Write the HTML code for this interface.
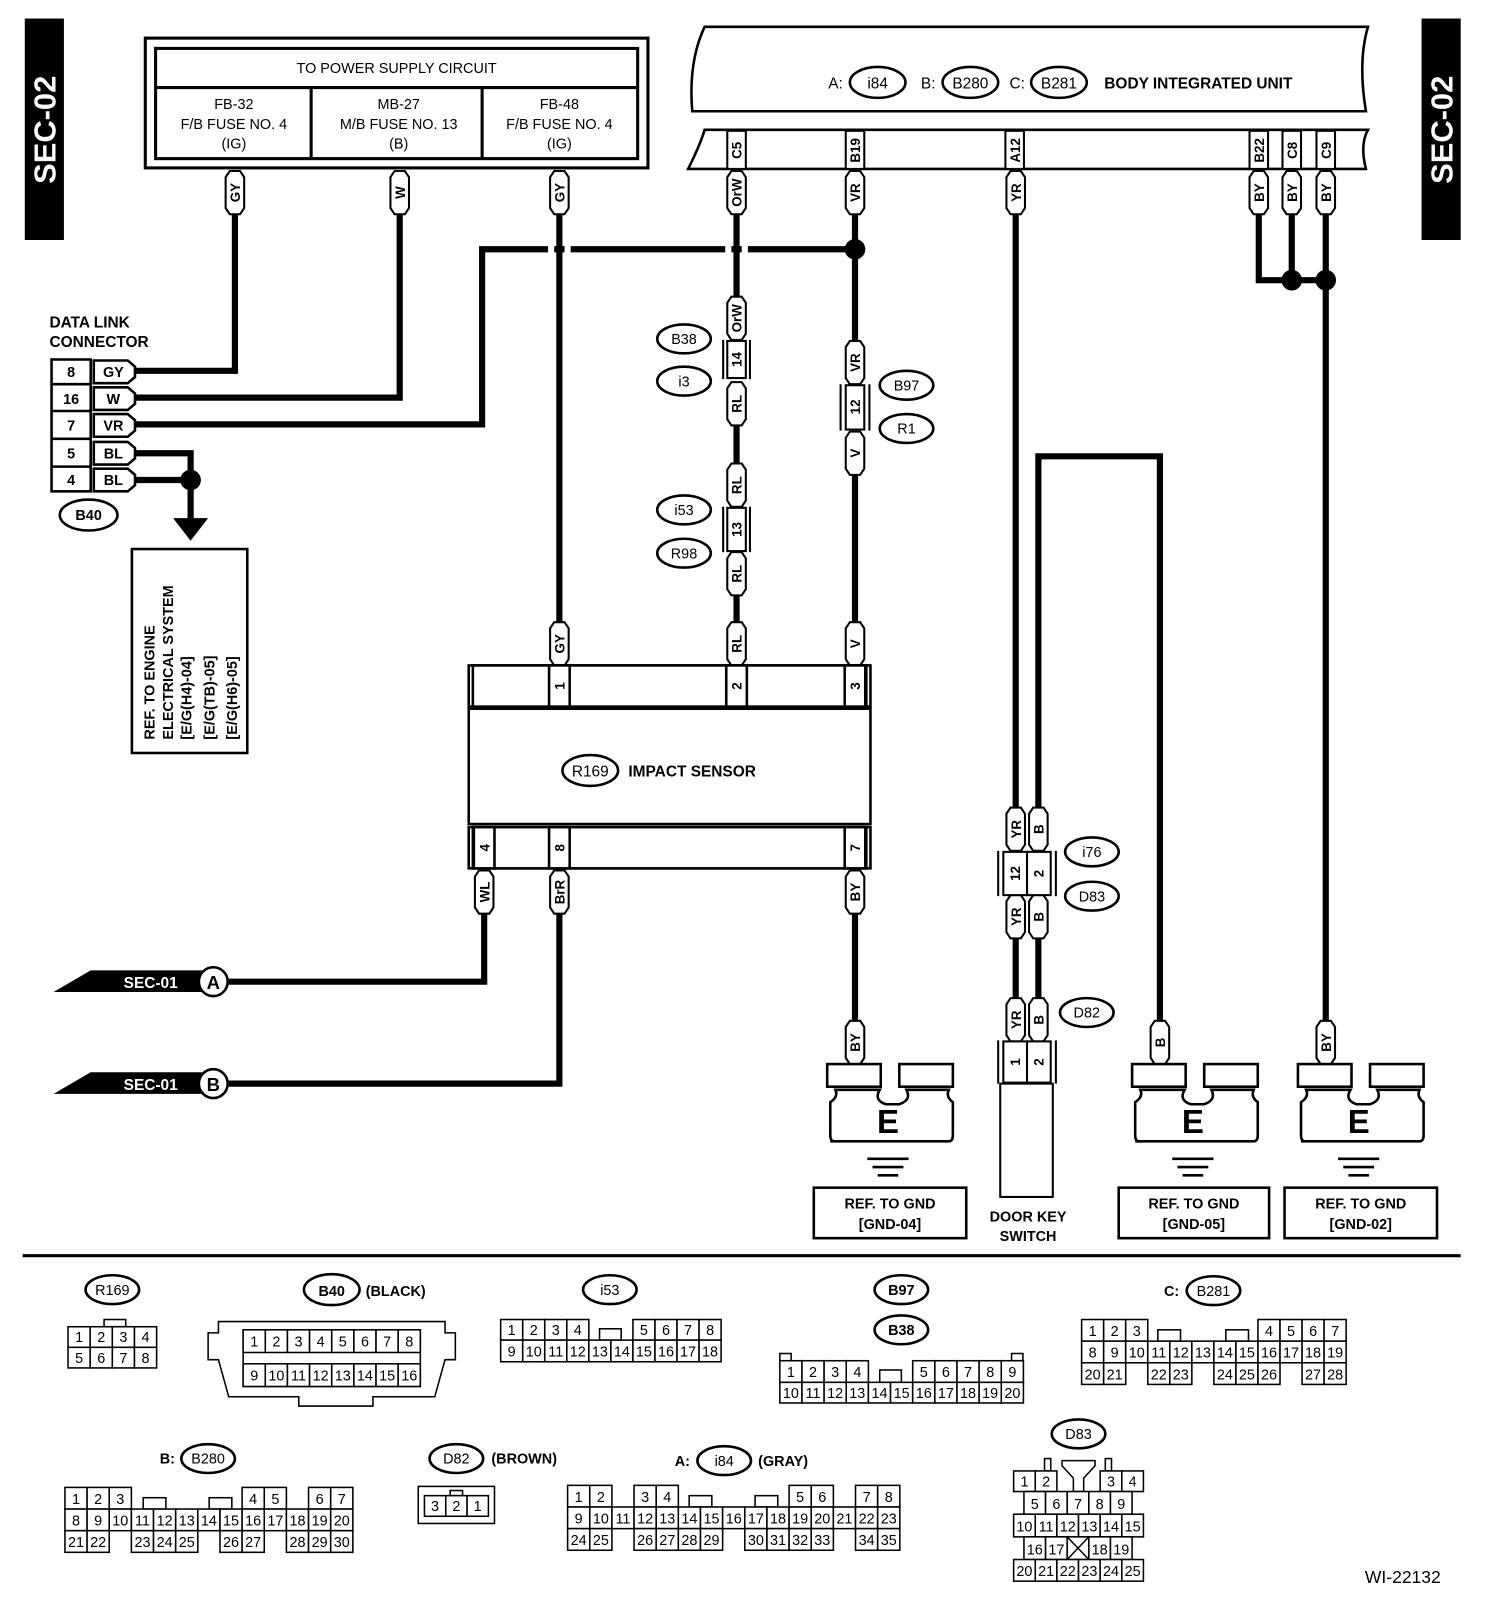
<!DOCTYPE html>
<html><head><meta charset="utf-8"><style>
html,body{margin:0;padding:0;background:#fff;}
svg{display:block;}
text{font-family:"Liberation Sans",Arial,sans-serif;}
</style></head><body>
<svg width="1504" height="1610" viewBox="0 0 1460 1563" xmlns="http://www.w3.org/2000/svg">
<defs>
<path id="tg" d="M-9,-15 L-5,-21 L5,-21 L9,-15 L9,15 L5,21 L-5,21 L-9,15 Z" fill="#fff" stroke="#000" stroke-width="2"/>
</defs>
<rect width="1460" height="1563" fill="#fff"/>

<!-- SEC-02 tabs -->
<rect x="24" y="18" width="38" height="215" fill="#000"/>
<text transform="translate(54,126) rotate(-90)" text-anchor="middle" font-size="30" font-weight="bold" fill="#fff">SEC-02</text>
<rect x="1380" y="18" width="38" height="215" fill="#000"/>
<text transform="translate(1410,126) rotate(-90)" text-anchor="middle" font-size="30" font-weight="bold" fill="#fff">SEC-02</text>

<!-- Fuse box -->
<g fill="none" stroke="#000" stroke-width="3">
<rect x="141" y="37" width="488" height="126"/>
<rect x="151" y="47" width="468" height="107"/>
<line x1="151" y1="85" x2="619" y2="85"/>
<line x1="302" y1="85" x2="302" y2="154"/>
<line x1="468" y1="85" x2="468" y2="154"/>
</g>
<g font-size="14" text-anchor="middle" fill="#000">
<text x="385" y="71">TO POWER SUPPLY CIRCUIT</text>
<text x="227" y="106">FB-32</text><text x="227" y="125">F/B FUSE NO. 4</text><text x="227" y="144">(IG)</text>
<text x="387" y="106">MB-27</text><text x="387" y="125">M/B FUSE NO. 13</text><text x="387" y="144">(B)</text>
<text x="543" y="106">FB-48</text><text x="543" y="125">F/B FUSE NO. 4</text><text x="543" y="144">(IG)</text>
</g>

<!-- Body integrated unit -->
<path d="M684,26 L1328,26 Q1318,60 1326,108 L672,108 Q668,60 684,26 Z" fill="#fff" stroke="#000" stroke-width="2.5"/>
<path d="M684,126 L1328,126 Q1320,140 1326,164 L668,164 Q680,140 684,126 Z" fill="#fff" stroke="#000" stroke-width="2.5"/>
<g stroke="#000" stroke-width="2" fill="#fff">
<rect x="706" y="127" width="18" height="37"/>
<rect x="821" y="127" width="18" height="37"/>
<rect x="976" y="127" width="18" height="37"/>
<rect x="1213" y="127" width="18" height="37"/>
<rect x="1245" y="127" width="18" height="37"/>
<rect x="1278" y="127" width="18" height="37"/>
</g>
<g font-size="13" font-weight="bold" text-anchor="middle">
<text transform="translate(720,146) rotate(-90)">C5</text>
<text transform="translate(835,146) rotate(-90)">B19</text>
<text transform="translate(990,146) rotate(-90)">A12</text>
<text transform="translate(1227,146) rotate(-90)">B22</text>
<text transform="translate(1259,146) rotate(-90)">C8</text>
<text transform="translate(1292,146) rotate(-90)">C9</text>
</g>
<g font-size="15" fill="#000">
<text x="804" y="86">A:</text>
<ellipse cx="852" cy="80" rx="27" ry="15" fill="none" stroke="#000" stroke-width="2.5"/><text x="852" y="86" text-anchor="middle">i84</text>
<text x="894" y="86">B:</text>
<ellipse cx="942" cy="80" rx="27" ry="15" fill="none" stroke="#000" stroke-width="2.5"/><text x="942" y="86" text-anchor="middle">B280</text>
<text x="980" y="86">C:</text>
<ellipse cx="1028" cy="80" rx="27" ry="15" fill="none" stroke="#000" stroke-width="2.5"/><text x="1028" y="86" text-anchor="middle">B281</text>
<text x="1072" y="86" font-weight="bold">BODY INTEGRATED UNIT</text>
</g>

<!-- wires -->
<g stroke="#000" stroke-width="6" fill="none">
<polyline points="228,208 228,360 130,360"/>
<polyline points="388,208 388,386 130,386"/>
<polyline points="830,242 468,242 468,412 130,412"/>
<line x1="543" y1="208" x2="543" y2="605"/>
<line x1="715" y1="208" x2="715" y2="290"/>
<line x1="715" y1="410" x2="715" y2="455"/>
<line x1="715" y1="575" x2="715" y2="605"/>
<line x1="830" y1="208" x2="830" y2="332"/>
<line x1="830" y1="458" x2="830" y2="605"/>
<polyline points="130,440 185,440 185,505"/>
<line x1="130" y1="466" x2="185" y2="466"/>
<line x1="986" y1="208" x2="986" y2="786"/>
<polyline points="1008,786 1008,443 1126,443 1126,992"/>
<polyline points="1222,208 1222,272 1287,272"/>
<line x1="1254" y1="208" x2="1254" y2="272"/>
<line x1="1287" y1="208" x2="1287" y2="992"/>
<polyline points="470,886 470,953 222,953"/>
<polyline points="543,886 543,1052 222,1052"/>
<line x1="830" y1="886" x2="830" y2="992"/>
<line x1="986" y1="910" x2="986" y2="970"/>
<line x1="1008" y1="910" x2="1008" y2="970"/>
</g>
<!-- crossing breaks -->
<rect x="532" y="236" width="6" height="12" fill="#fff"/>
<rect x="548" y="236" width="6" height="12" fill="#fff"/>
<rect x="704" y="236" width="6" height="12" fill="#fff"/>
<rect x="720" y="236" width="6" height="12" fill="#fff"/>
<g fill="#000">
<circle cx="830" cy="242" r="10"/>
<circle cx="185" cy="466" r="10"/>
<circle cx="1254" cy="272" r="10"/>
<circle cx="1287" cy="272" r="10"/>
<polygon points="168,503 202,503 185,525"/>
</g>

<!-- tags -->
<use href="#tg" x="228" y="187"/><use href="#tg" x="388" y="187"/><use href="#tg" x="543" y="187"/>
<use href="#tg" x="715" y="187"/><use href="#tg" x="830" y="187"/><use href="#tg" x="986" y="187"/>
<use href="#tg" x="1222" y="187"/><use href="#tg" x="1254" y="187"/><use href="#tg" x="1287" y="187"/>
<use href="#tg" x="715" y="309"/><use href="#tg" x="715" y="392"/><use href="#tg" x="715" y="471"/><use href="#tg" x="715" y="557"/><use href="#tg" x="715" y="625"/>
<use href="#tg" x="830" y="352"/><use href="#tg" x="830" y="440"/><use href="#tg" x="830" y="625"/><use href="#tg" x="543" y="625"/>
<use href="#tg" x="470" y="866"/><use href="#tg" x="543" y="866"/><use href="#tg" x="830" y="866"/>
<use href="#tg" x="986" y="805"/><use href="#tg" x="1008" y="805"/><use href="#tg" x="986" y="890"/><use href="#tg" x="1008" y="890"/>
<use href="#tg" x="986" y="990"/><use href="#tg" x="1008" y="990"/>
<use href="#tg" x="830" y="1012"/><use href="#tg" x="1126" y="1012"/><use href="#tg" x="1287" y="1012"/>
<g font-size="13" font-weight="bold" text-anchor="middle">
<text transform="translate(233,187) rotate(-90)">GY</text>
<text transform="translate(393,187) rotate(-90)">W</text>
<text transform="translate(548,187) rotate(-90)">GY</text>
<text transform="translate(720,187) rotate(-90)">OrW</text>
<text transform="translate(835,187) rotate(-90)">VR</text>
<text transform="translate(991,187) rotate(-90)">YR</text>
<text transform="translate(1227,187) rotate(-90)">BY</text>
<text transform="translate(1259,187) rotate(-90)">BY</text>
<text transform="translate(1292,187) rotate(-90)">BY</text>
<text transform="translate(720,309) rotate(-90)">OrW</text>
<text transform="translate(720,392) rotate(-90)">RL</text>
<text transform="translate(720,471) rotate(-90)">RL</text>
<text transform="translate(720,557) rotate(-90)">RL</text>
<text transform="translate(720,625) rotate(-90)">RL</text>
<text transform="translate(835,352) rotate(-90)">VR</text>
<text transform="translate(835,440) rotate(-90)">V</text>
<text transform="translate(835,625) rotate(-90)">V</text>
<text transform="translate(548,625) rotate(-90)">GY</text>
<text transform="translate(475,866) rotate(-90)">WL</text>
<text transform="translate(548,866) rotate(-90)">BrR</text>
<text transform="translate(835,866) rotate(-90)">BY</text>
<text transform="translate(991,805) rotate(-90)">YR</text>
<text transform="translate(1013,805) rotate(-90)">B</text>
<text transform="translate(991,890) rotate(-90)">YR</text>
<text transform="translate(1013,890) rotate(-90)">B</text>
<text transform="translate(991,990) rotate(-90)">YR</text>
<text transform="translate(1013,990) rotate(-90)">B</text>
<text transform="translate(835,1012) rotate(-90)">BY</text>
<text transform="translate(1131,1012) rotate(-90)">B</text>
<text transform="translate(1292,1012) rotate(-90)">BY</text>
</g>

<!-- inline connectors -->
<g fill="#fff" stroke="#000" stroke-width="2">
<path d="M702,330 L702,368 M728,330 L728,368" stroke-width="2"/>
<rect x="706" y="331" width="18" height="36"/>
<path d="M702,492 L702,536 M728,492 L728,536"/>
<rect x="706" y="493" width="18" height="42"/>
<path d="M816,373 L816,418 M844,373 L844,418"/>
<rect x="821" y="374" width="18" height="43"/>
<path d="M969,826 L969,870 M1025,826 L1025,870"/>
<rect x="974" y="827" width="23" height="42"/><rect x="997" y="827" width="23" height="42"/>
<path d="M969,1010 L969,1052 M1025,1010 L1025,1052"/>
<rect x="974" y="1011" width="23" height="40"/><rect x="997" y="1011" width="23" height="40"/>
<rect x="971" y="1052" width="51" height="110"/>
</g>
<g font-size="13" font-weight="bold" text-anchor="middle">
<text transform="translate(720,349) rotate(-90)">14</text>
<text transform="translate(720,514) rotate(-90)">13</text>
<text transform="translate(835,395) rotate(-90)">12</text>
<text transform="translate(990,848) rotate(-90)">12</text>
<text transform="translate(1013,848) rotate(-90)">2</text>
<text transform="translate(990,1031) rotate(-90)">1</text>
<text transform="translate(1013,1031) rotate(-90)">2</text>
</g>
<g font-size="14" text-anchor="middle" fill="none" stroke="#000" stroke-width="2.5">
<ellipse cx="664" cy="329" rx="26" ry="14"/><ellipse cx="664" cy="370" rx="26" ry="14"/>
<ellipse cx="880" cy="374" rx="26" ry="14"/><ellipse cx="880" cy="416" rx="26" ry="14"/>
<ellipse cx="664" cy="495" rx="26" ry="14"/><ellipse cx="664" cy="537" rx="26" ry="14"/>
<ellipse cx="1060" cy="827" rx="26" ry="14"/><ellipse cx="1060" cy="870" rx="26" ry="14"/>
<ellipse cx="1055" cy="983" rx="26" ry="14"/>
<ellipse cx="86" cy="500" rx="28" ry="15"/>
</g>
<g font-size="14" text-anchor="middle">
<text x="664" y="334">B38</text><text x="664" y="375">i3</text>
<text x="880" y="379">B97</text><text x="880" y="421">R1</text>
<text x="664" y="500">i53</text><text x="664" y="542">R98</text>
<text x="1060" y="832">i76</text><text x="1060" y="875">D83</text>
<text x="1055" y="988">D82</text>
<text x="86" y="505" font-weight="bold">B40</text>
</g>

<!-- DLC -->
<text x="48" y="318" font-size="15" font-weight="bold">DATA LINK</text>
<text x="48" y="337" font-size="15" font-weight="bold">CONNECTOR</text>
<g stroke="#000" stroke-width="2.5" fill="#fff">
<rect x="50" y="349" width="38" height="128"/>
<line x1="50" y1="373" x2="88" y2="373"/><line x1="50" y1="399" x2="88" y2="399"/><line x1="50" y1="426" x2="88" y2="426"/><line x1="50" y1="453" x2="88" y2="453"/>
<path d="M91,350 L124,350 L131,356 L131,366 L124,372 L91,372 Z"/>
<path d="M91,376 L124,376 L131,382 L131,392 L124,398 L91,398 Z"/>
<path d="M91,402 L124,402 L131,408 L131,418 L124,424 L91,424 Z"/>
<path d="M91,429 L124,429 L131,435 L131,445 L124,451 L91,451 Z"/>
<path d="M91,455 L124,455 L131,461 L131,471 L124,477 L91,477 Z"/>
</g>
<g font-size="14" font-weight="bold" text-anchor="middle">
<text x="69" y="366">8</text><text x="69" y="392">16</text><text x="69" y="418">7</text><text x="69" y="445">5</text><text x="69" y="471">4</text>
<text x="110" y="366">GY</text><text x="110" y="392">W</text><text x="110" y="418">VR</text><text x="110" y="445">BL</text><text x="110" y="471">BL</text>
</g>

<!-- ref engine box -->
<rect x="128" y="533" width="112" height="198" fill="none" stroke="#000" stroke-width="2.5"/>
<g font-size="14" font-weight="bold">
<text transform="translate(150,718) rotate(-90)">REF. TO ENGINE</text>
<text transform="translate(168,718) rotate(-90)">ELECTRICAL SYSTEM</text>
<text transform="translate(186,718) rotate(-90)">[E/G(H4)-04]</text>
<text transform="translate(208,718) rotate(-90)">[E/G(TB)-05]</text>
<text transform="translate(230,718) rotate(-90)">[E/G(H6)-05]</text>
</g>

<!-- Impact sensor -->
<g stroke="#000" stroke-width="2.5" fill="#fff">
<rect x="455" y="646" width="390" height="40"/>
<rect x="455" y="688" width="390" height="112"/>
<rect x="455" y="803" width="390" height="40"/>
<rect x="459" y="646" width="382" height="40"/>
<rect x="459" y="803" width="382" height="40"/>
<rect x="533" y="646" width="20" height="40"/><rect x="705" y="646" width="20" height="40"/><rect x="820" y="646" width="20" height="40"/>
<rect x="460" y="803" width="20" height="40"/><rect x="533" y="803" width="20" height="40"/><rect x="820" y="803" width="20" height="40"/>
</g>
<g font-size="13" font-weight="bold" text-anchor="middle">
<text transform="translate(548,666) rotate(-90)">1</text>
<text transform="translate(720,666) rotate(-90)">2</text>
<text transform="translate(835,666) rotate(-90)">3</text>
<text transform="translate(475,823) rotate(-90)">4</text>
<text transform="translate(548,823) rotate(-90)">8</text>
<text transform="translate(835,823) rotate(-90)">7</text>
</g>
<ellipse cx="573" cy="748" rx="27" ry="15" fill="none" stroke="#000" stroke-width="2.5"/>
<text x="573" y="754" font-size="15" text-anchor="middle">R169</text>
<text x="610" y="754" font-size="15" font-weight="bold">IMPACT SENSOR</text>

<!-- SEC-01 -->
<polygon points="52,963 88,942 196,942 196,963" fill="#000"/>
<text x="120" y="959" font-size="15" fill="#fff" font-weight="bold">SEC-01</text>
<circle cx="207" cy="953" r="14" fill="#fff" stroke="#000" stroke-width="2.5"/>
<text x="207" y="960" font-size="18" font-weight="bold" text-anchor="middle">A</text>
<polygon points="52,1062 88,1041 196,1041 196,1062" fill="#000"/>
<text x="120" y="1058" font-size="15" fill="#fff" font-weight="bold">SEC-01</text>
<circle cx="207" cy="1052" r="14" fill="#fff" stroke="#000" stroke-width="2.5"/>
<text x="207" y="1059" font-size="18" font-weight="bold" text-anchor="middle">B</text>

<!-- grounds -->
<g id="gnd1" stroke="#000" stroke-width="2.5" fill="#fff">
<rect x="803" y="1033" width="52" height="22"/><rect x="873" y="1033" width="52" height="22"/>
<path d="M806,1108 L921,1108 Q925,1108 925,1102 L925,1070 Q918,1065 921,1058 L880,1058 Q885,1068 873,1072 L860,1072 Q848,1068 854,1058 L811,1058 Q814,1065 806,1070 L806,1102 Q806,1108 810,1108 Z"/>
</g>
<text x="862" y="1100" font-size="32" font-weight="bold" text-anchor="middle">E</text>
<g stroke="#000" stroke-width="2.5"><line x1="842" y1="1125" x2="882" y2="1125"/><line x1="847" y1="1133" x2="877" y2="1133"/><line x1="852" y1="1141" x2="872" y2="1141"/></g>
<g transform="translate(296,0)">
<g stroke="#000" stroke-width="2.5" fill="#fff">
<rect x="803" y="1033" width="52" height="22"/><rect x="873" y="1033" width="52" height="22"/>
<path d="M806,1108 L921,1108 Q925,1108 925,1102 L925,1070 Q918,1065 921,1058 L880,1058 Q885,1068 873,1072 L860,1072 Q848,1068 854,1058 L811,1058 Q814,1065 806,1070 L806,1102 Q806,1108 810,1108 Z"/>
</g>
<text x="862" y="1100" font-size="32" font-weight="bold" text-anchor="middle">E</text>
<g stroke="#000" stroke-width="2.5"><line x1="842" y1="1125" x2="882" y2="1125"/><line x1="847" y1="1133" x2="877" y2="1133"/><line x1="852" y1="1141" x2="872" y2="1141"/></g>
</g>
<g transform="translate(457,0)">
<g stroke="#000" stroke-width="2.5" fill="#fff">
<rect x="803" y="1033" width="52" height="22"/><rect x="873" y="1033" width="52" height="22"/>
<path d="M806,1108 L921,1108 Q925,1108 925,1102 L925,1070 Q918,1065 921,1058 L880,1058 Q885,1068 873,1072 L860,1072 Q848,1068 854,1058 L811,1058 Q814,1065 806,1070 L806,1102 Q806,1108 810,1108 Z"/>
</g>
<text x="862" y="1100" font-size="32" font-weight="bold" text-anchor="middle">E</text>
<g stroke="#000" stroke-width="2.5"><line x1="842" y1="1125" x2="882" y2="1125"/><line x1="847" y1="1133" x2="877" y2="1133"/><line x1="852" y1="1141" x2="872" y2="1141"/></g>
</g>
<g fill="none" stroke="#000" stroke-width="2.5">
<rect x="790" y="1153" width="148" height="49"/>
<rect x="1086" y="1153" width="146" height="49"/>
<rect x="1247" y="1153" width="148" height="49"/>
</g>
<g font-size="14" font-weight="bold" text-anchor="middle">
<text x="864" y="1173">REF. TO GND</text><text x="864" y="1193">[GND-04]</text>
<text x="1159" y="1173">REF. TO GND</text><text x="1159" y="1193">[GND-05]</text>
<text x="1321" y="1173">REF. TO GND</text><text x="1321" y="1193">[GND-02]</text>
<text x="998" y="1186">DOOR KEY</text><text x="998" y="1205">SWITCH</text>
</g>

<line x1="22" y1="1219" x2="1418" y2="1219" stroke="#000" stroke-width="3"/>

<!-- bottom connector views -->
<g font-size="14" text-anchor="middle" fill="none" stroke="#000" stroke-width="2.5">
<ellipse cx="109" cy="1252" rx="26" ry="14"/>
<ellipse cx="322" cy="1252" rx="27" ry="15"/>
<ellipse cx="592" cy="1252" rx="26" ry="14"/>
<ellipse cx="875" cy="1252" rx="26" ry="14"/>
<ellipse cx="875" cy="1291" rx="26" ry="14"/>
<ellipse cx="1178" cy="1253" rx="26" ry="14"/>
<ellipse cx="202" cy="1416" rx="26" ry="14"/>
<ellipse cx="443" cy="1416" rx="26" ry="14"/>
<ellipse cx="703" cy="1418" rx="26" ry="14"/>
<ellipse cx="1047" cy="1392" rx="26" ry="14"/>
</g>
<g font-size="14">
<text x="109" y="1257" text-anchor="middle">R169</text>
<text x="322" y="1258" text-anchor="middle" font-weight="bold">B40</text><text x="355" y="1258" font-weight="bold">(BLACK)</text>
<text x="592" y="1257" text-anchor="middle">i53</text>
<text x="875" y="1257" text-anchor="middle" font-weight="bold">B97</text>
<text x="875" y="1296" text-anchor="middle" font-weight="bold">B38</text>
<text x="1130" y="1258" font-weight="bold">C:</text><text x="1178" y="1258" text-anchor="middle">B281</text>
<text x="155" y="1421" font-weight="bold">B:</text><text x="202" y="1421" text-anchor="middle">B280</text>
<text x="443" y="1421" text-anchor="middle">D82</text><text x="477" y="1421" font-weight="bold">(BROWN)</text>
<text x="655" y="1423" font-weight="bold">A:</text><text x="703" y="1423" text-anchor="middle">i84</text><text x="736" y="1423" font-weight="bold">(GRAY)</text>
<text x="1047" y="1397" text-anchor="middle">D83</text>
</g>

<g stroke="#000" stroke-width="1.5" fill="#fff">
<!-- R169 -->
<rect x="101" y="1281" width="21" height="7"/>
<rect x="66" y="1288" width="21.5" height="20"/><rect x="87.5" y="1288" width="21.5" height="20"/><rect x="109" y="1288" width="21.5" height="20"/><rect x="130.5" y="1288" width="21.5" height="20"/>
<rect x="66" y="1308" width="21.5" height="20"/><rect x="87.5" y="1308" width="21.5" height="20"/><rect x="109" y="1308" width="21.5" height="20"/><rect x="130.5" y="1308" width="21.5" height="20"/>
<!-- B40 -->
<path d="M212,1283 L432,1283 L432,1294 L442,1294 L442,1320 L432,1320 L422,1356 L362,1356 L362,1365 L290,1365 L290,1356 L222,1356 L212,1320 L202,1320 L202,1294 L212,1294 Z"/>
<rect x="236" y="1291" width="172" height="55"/>
<rect x="236" y="1291" width="21.5" height="22"/><rect x="257.5" y="1291" width="21.5" height="22"/><rect x="279" y="1291" width="21.5" height="22"/><rect x="300.5" y="1291" width="21.5" height="22"/><rect x="322" y="1291" width="21.5" height="22"/><rect x="343.5" y="1291" width="21.5" height="22"/><rect x="365" y="1291" width="21.5" height="22"/><rect x="386.5" y="1291" width="21.5" height="22"/>
<rect x="236" y="1324" width="21.5" height="22"/><rect x="257.5" y="1324" width="21.5" height="22"/><rect x="279" y="1324" width="21.5" height="22"/><rect x="300.5" y="1324" width="21.5" height="22"/><rect x="322" y="1324" width="21.5" height="22"/><rect x="343.5" y="1324" width="21.5" height="22"/><rect x="365" y="1324" width="21.5" height="22"/><rect x="386.5" y="1324" width="21.5" height="22"/>
<!-- i53 -->
<rect x="582" y="1290" width="21" height="11"/>
<rect x="486" y="1281" width="21.4" height="20"/><rect x="507.4" y="1281" width="21.4" height="20"/><rect x="528.8" y="1281" width="21.4" height="20"/><rect x="550.2" y="1281" width="21.4" height="20"/>
<rect x="614.4" y="1281" width="21.4" height="20"/><rect x="635.8" y="1281" width="21.4" height="20"/><rect x="657.2" y="1281" width="21.4" height="20"/><rect x="678.6" y="1281" width="21.4" height="20"/>
<rect x="486" y="1301" width="21.4" height="21"/><rect x="507.4" y="1301" width="21.4" height="21"/><rect x="528.8" y="1301" width="21.4" height="21"/><rect x="550.2" y="1301" width="21.4" height="21"/><rect x="571.6" y="1301" width="21.4" height="21"/><rect x="593" y="1301" width="21.4" height="21"/><rect x="614.4" y="1301" width="21.4" height="21"/><rect x="635.8" y="1301" width="21.4" height="21"/><rect x="657.2" y="1301" width="21.4" height="21"/><rect x="678.6" y="1301" width="21.4" height="21"/>
<!-- B97 -->
<rect x="757" y="1314" width="11" height="7"/><rect x="982" y="1314" width="11" height="7"/>
<rect x="854" y="1330" width="21" height="12"/>
<rect x="757" y="1321" width="21.5" height="21"/><rect x="778.5" y="1321" width="21.5" height="21"/><rect x="800" y="1321" width="21.5" height="21"/><rect x="821.5" y="1321" width="21.5" height="21"/>
<rect x="886" y="1321" width="21.5" height="21"/><rect x="907.5" y="1321" width="21.5" height="21"/><rect x="929" y="1321" width="21.5" height="21"/><rect x="950.5" y="1321" width="21.5" height="21"/><rect x="972" y="1321" width="21.5" height="21"/>
<rect x="757" y="1342" width="21.5" height="20"/><rect x="778.5" y="1342" width="21.5" height="20"/><rect x="800" y="1342" width="21.5" height="20"/><rect x="821.5" y="1342" width="21.5" height="20"/><rect x="843" y="1342" width="21.5" height="20"/><rect x="864.5" y="1342" width="21.5" height="20"/><rect x="886" y="1342" width="21.5" height="20"/><rect x="907.5" y="1342" width="21.5" height="20"/><rect x="929" y="1342" width="21.5" height="20"/><rect x="950.5" y="1342" width="21.5" height="20"/><rect x="972" y="1342" width="21.5" height="20"/>
<!-- B281 -->
<rect x="1124" y="1291" width="22" height="11"/><rect x="1190" y="1291" width="22" height="11"/>
<rect x="1050" y="1281" width="21.4" height="21"/><rect x="1071.4" y="1281" width="21.4" height="21"/><rect x="1092.8" y="1281" width="21.4" height="21"/>
<rect x="1221.2" y="1281" width="21.4" height="21"/><rect x="1242.6" y="1281" width="21.4" height="21"/><rect x="1264" y="1281" width="21.4" height="21"/><rect x="1285.4" y="1281" width="21.4" height="21"/>
<rect x="1050" y="1302" width="21.4" height="21"/><rect x="1071.4" y="1302" width="21.4" height="21"/><rect x="1092.8" y="1302" width="21.4" height="21"/><rect x="1114.2" y="1302" width="21.4" height="21"/><rect x="1135.6" y="1302" width="21.4" height="21"/><rect x="1157" y="1302" width="21.4" height="21"/><rect x="1178.4" y="1302" width="21.4" height="21"/><rect x="1199.8" y="1302" width="21.4" height="21"/><rect x="1221.2" y="1302" width="21.4" height="21"/><rect x="1242.6" y="1302" width="21.4" height="21"/><rect x="1264" y="1302" width="21.4" height="21"/><rect x="1285.4" y="1302" width="21.4" height="21"/>
<rect x="1050" y="1323" width="21.4" height="21"/><rect x="1071.4" y="1323" width="21.4" height="21"/>
<rect x="1114.2" y="1323" width="21.4" height="21"/><rect x="1135.6" y="1323" width="21.4" height="21"/>
<rect x="1178.4" y="1323" width="21.4" height="21"/><rect x="1199.8" y="1323" width="21.4" height="21"/><rect x="1221.2" y="1323" width="21.4" height="21"/>
<rect x="1264" y="1323" width="21.4" height="21"/><rect x="1285.4" y="1323" width="21.4" height="21"/>
<!-- B280 -->
<rect x="139" y="1454" width="22" height="11"/><rect x="203" y="1454" width="22" height="11"/>
<rect x="63" y="1444" width="21.5" height="21"/><rect x="84.5" y="1444" width="21.5" height="21"/><rect x="106" y="1444" width="21.5" height="21"/>
<rect x="235" y="1444" width="21.5" height="21"/><rect x="256.5" y="1444" width="21.5" height="21"/>
<rect x="299.5" y="1444" width="21.5" height="21"/><rect x="321" y="1444" width="21.5" height="21"/>
<rect x="63" y="1465" width="21.5" height="21"/><rect x="84.5" y="1465" width="21.5" height="21"/><rect x="106" y="1465" width="21.5" height="21"/><rect x="127.5" y="1465" width="21.5" height="21"/><rect x="149" y="1465" width="21.5" height="21"/><rect x="170.5" y="1465" width="21.5" height="21"/><rect x="192" y="1465" width="21.5" height="21"/><rect x="213.5" y="1465" width="21.5" height="21"/><rect x="235" y="1465" width="21.5" height="21"/><rect x="256.5" y="1465" width="21.5" height="21"/><rect x="278" y="1465" width="21.5" height="21"/><rect x="299.5" y="1465" width="21.5" height="21"/><rect x="321" y="1465" width="21.5" height="21"/>
<rect x="63" y="1486" width="21.5" height="21"/><rect x="84.5" y="1486" width="21.5" height="21"/>
<rect x="127.5" y="1486" width="21.5" height="21"/><rect x="149" y="1486" width="21.5" height="21"/><rect x="170.5" y="1486" width="21.5" height="21"/>
<rect x="213.5" y="1486" width="21.5" height="21"/><rect x="235" y="1486" width="21.5" height="21"/>
<rect x="278" y="1486" width="21.5" height="21"/><rect x="299.5" y="1486" width="21.5" height="21"/><rect x="321" y="1486" width="21.5" height="21"/>
<!-- D82 -->
<rect x="406" y="1443" width="74" height="36"/>
<rect x="437" y="1447" width="12" height="5"/>
<rect x="412" y="1452" width="20.7" height="20"/><rect x="432.7" y="1452" width="20.7" height="20"/><rect x="453.4" y="1452" width="20.7" height="20"/>
<!-- i84 -->
<rect x="669" y="1452" width="22" height="11"/><rect x="733" y="1452" width="22" height="11"/>
<rect x="551" y="1442" width="21.5" height="21"/><rect x="572.5" y="1442" width="21.5" height="21"/>
<rect x="615.5" y="1442" width="21.5" height="21"/><rect x="637" y="1442" width="21.5" height="21"/>
<rect x="766" y="1442" width="21.5" height="21"/><rect x="787.5" y="1442" width="21.5" height="21"/>
<rect x="830.5" y="1442" width="21.5" height="21"/><rect x="852" y="1442" width="21.5" height="21"/>
<rect x="551" y="1463" width="21.5" height="21"/><rect x="572.5" y="1463" width="21.5" height="21"/><rect x="594" y="1463" width="21.5" height="21"/><rect x="615.5" y="1463" width="21.5" height="21"/><rect x="637" y="1463" width="21.5" height="21"/><rect x="658.5" y="1463" width="21.5" height="21"/><rect x="680" y="1463" width="21.5" height="21"/><rect x="701.5" y="1463" width="21.5" height="21"/><rect x="723" y="1463" width="21.5" height="21"/><rect x="744.5" y="1463" width="21.5" height="21"/><rect x="766" y="1463" width="21.5" height="21"/><rect x="787.5" y="1463" width="21.5" height="21"/><rect x="809" y="1463" width="21.5" height="21"/><rect x="830.5" y="1463" width="21.5" height="21"/><rect x="852" y="1463" width="21.5" height="21"/>
<rect x="551" y="1484" width="21.5" height="21"/><rect x="572.5" y="1484" width="21.5" height="21"/>
<rect x="615.5" y="1484" width="21.5" height="21"/><rect x="637" y="1484" width="21.5" height="21"/><rect x="658.5" y="1484" width="21.5" height="21"/><rect x="680" y="1484" width="21.5" height="21"/>
<rect x="723" y="1484" width="21.5" height="21"/><rect x="744.5" y="1484" width="21.5" height="21"/><rect x="766" y="1484" width="21.5" height="21"/><rect x="787.5" y="1484" width="21.5" height="21"/>
<rect x="830.5" y="1484" width="21.5" height="21"/><rect x="852" y="1484" width="21.5" height="21"/>
<!-- D83 -->
<rect x="1014" y="1416" width="6" height="12"/><rect x="1073" y="1416" width="6" height="12"/>
<path d="M1031,1418 L1063,1418 L1063,1423 L1052,1435 L1052,1448 L1042,1448 L1042,1435 L1031,1423 Z"/>
<rect x="984" y="1428" width="21" height="20"/><rect x="1005" y="1428" width="21" height="20"/>
<rect x="1068" y="1428" width="21" height="20"/><rect x="1089" y="1428" width="21" height="20"/>
<rect x="994" y="1448" width="21" height="22"/><rect x="1015" y="1448" width="21" height="22"/><rect x="1036" y="1448" width="21" height="22"/><rect x="1057" y="1448" width="21" height="22"/><rect x="1078" y="1448" width="21" height="22"/>
<rect x="984" y="1470" width="21" height="22"/><rect x="1005" y="1470" width="21" height="22"/><rect x="1026" y="1470" width="21" height="22"/><rect x="1047" y="1470" width="21" height="22"/><rect x="1068" y="1470" width="21" height="22"/><rect x="1089" y="1470" width="21" height="22"/>
<rect x="994" y="1492" width="21" height="22"/><rect x="1015" y="1492" width="21" height="22"/><rect x="1036" y="1492" width="21" height="22"/><rect x="1057" y="1492" width="21" height="22"/><rect x="1078" y="1492" width="21" height="22"/>
<path d="M1036,1492 L1057,1514 M1057,1492 L1036,1514"/>
<rect x="984" y="1514" width="21" height="21"/><rect x="1005" y="1514" width="21" height="21"/><rect x="1026" y="1514" width="21" height="21"/><rect x="1047" y="1514" width="21" height="21"/><rect x="1068" y="1514" width="21" height="21"/><rect x="1089" y="1514" width="21" height="21"/>
</g>

<g font-size="14" text-anchor="middle" fill="#000">
<!-- R169 -->
<text x="76.75" y="1303">1</text><text x="98.25" y="1303">2</text><text x="119.75" y="1303">3</text><text x="141.25" y="1303">4</text>
<text x="76.75" y="1323">5</text><text x="98.25" y="1323">6</text><text x="119.75" y="1323">7</text><text x="141.25" y="1323">8</text>
<!-- B40 -->
<text x="246.75" y="1307">1</text><text x="268.25" y="1307">2</text><text x="289.75" y="1307">3</text><text x="311.25" y="1307">4</text><text x="332.75" y="1307">5</text><text x="354.25" y="1307">6</text><text x="375.75" y="1307">7</text><text x="397.25" y="1307">8</text>
<text x="246.75" y="1340">9</text><text x="268.25" y="1340">10</text><text x="289.75" y="1340">11</text><text x="311.25" y="1340">12</text><text x="332.75" y="1340">13</text><text x="354.25" y="1340">14</text><text x="375.75" y="1340">15</text><text x="397.25" y="1340">16</text>
<!-- i53 -->
<text x="496.7" y="1296">1</text><text x="518.1" y="1296">2</text><text x="539.5" y="1296">3</text><text x="560.9" y="1296">4</text><text x="625.1" y="1296">5</text><text x="646.5" y="1296">6</text><text x="667.9" y="1296">7</text><text x="689.3" y="1296">8</text>
<text x="496.7" y="1317">9</text><text x="518.1" y="1317">10</text><text x="539.5" y="1317">11</text><text x="560.9" y="1317">12</text><text x="582.3" y="1317">13</text><text x="603.7" y="1317">14</text><text x="625.1" y="1317">15</text><text x="646.5" y="1317">16</text><text x="667.9" y="1317">17</text><text x="689.3" y="1317">18</text>
<!-- B97 -->
<text x="767.75" y="1337">1</text><text x="789.25" y="1337">2</text><text x="810.75" y="1337">3</text><text x="832.25" y="1337">4</text><text x="896.75" y="1337">5</text><text x="918.25" y="1337">6</text><text x="939.75" y="1337">7</text><text x="961.25" y="1337">8</text><text x="982.75" y="1337">9</text>
<text x="767.75" y="1357">10</text><text x="789.25" y="1357">11</text><text x="810.75" y="1357">12</text><text x="832.25" y="1357">13</text><text x="853.75" y="1357">14</text><text x="875.25" y="1357">15</text><text x="896.75" y="1357">16</text><text x="918.25" y="1357">17</text><text x="939.75" y="1357">18</text><text x="961.25" y="1357">19</text><text x="982.75" y="1357">20</text>
<!-- B281 -->
<text x="1060.7" y="1297">1</text><text x="1082.1" y="1297">2</text><text x="1103.5" y="1297">3</text><text x="1231.9" y="1297">4</text><text x="1253.3" y="1297">5</text><text x="1274.7" y="1297">6</text><text x="1296.1" y="1297">7</text>
<text x="1060.7" y="1318">8</text><text x="1082.1" y="1318">9</text><text x="1103.5" y="1318">10</text><text x="1124.9" y="1318">11</text><text x="1146.3" y="1318">12</text><text x="1167.7" y="1318">13</text><text x="1189.1" y="1318">14</text><text x="1210.5" y="1318">15</text><text x="1231.9" y="1318">16</text><text x="1253.3" y="1318">17</text><text x="1274.7" y="1318">18</text><text x="1296.1" y="1318">19</text>
<text x="1060.7" y="1339">20</text><text x="1082.1" y="1339">21</text><text x="1124.9" y="1339">22</text><text x="1146.3" y="1339">23</text><text x="1189.1" y="1339">24</text><text x="1210.5" y="1339">25</text><text x="1231.9" y="1339">26</text><text x="1274.7" y="1339">27</text><text x="1296.1" y="1339">28</text>
<!-- B280 -->
<text x="73.75" y="1460">1</text><text x="95.25" y="1460">2</text><text x="116.75" y="1460">3</text><text x="245.75" y="1460">4</text><text x="267.25" y="1460">5</text><text x="310.25" y="1460">6</text><text x="331.75" y="1460">7</text>
<text x="73.75" y="1481">8</text><text x="95.25" y="1481">9</text><text x="116.75" y="1481">10</text><text x="138.25" y="1481">11</text><text x="159.75" y="1481">12</text><text x="181.25" y="1481">13</text><text x="202.75" y="1481">14</text><text x="224.25" y="1481">15</text><text x="245.75" y="1481">16</text><text x="267.25" y="1481">17</text><text x="288.75" y="1481">18</text><text x="310.25" y="1481">19</text><text x="331.75" y="1481">20</text>
<text x="73.75" y="1502">21</text><text x="95.25" y="1502">22</text><text x="138.25" y="1502">23</text><text x="159.75" y="1502">24</text><text x="181.25" y="1502">25</text><text x="224.25" y="1502">26</text><text x="245.75" y="1502">27</text><text x="288.75" y="1502">28</text><text x="310.25" y="1502">29</text><text x="331.75" y="1502">30</text>
<!-- D82 -->
<text x="422.3" y="1467">3</text><text x="443" y="1467">2</text><text x="463.7" y="1467">1</text>
<!-- i84 -->
<text x="561.75" y="1458">1</text><text x="583.25" y="1458">2</text><text x="626.25" y="1458">3</text><text x="647.75" y="1458">4</text><text x="776.75" y="1458">5</text><text x="798.25" y="1458">6</text><text x="841.25" y="1458">7</text><text x="862.75" y="1458">8</text>
<text x="561.75" y="1479">9</text><text x="583.25" y="1479">10</text><text x="604.75" y="1479">11</text><text x="626.25" y="1479">12</text><text x="647.75" y="1479">13</text><text x="669.25" y="1479">14</text><text x="690.75" y="1479">15</text><text x="712.25" y="1479">16</text><text x="733.75" y="1479">17</text><text x="755.25" y="1479">18</text><text x="776.75" y="1479">19</text><text x="798.25" y="1479">20</text><text x="819.75" y="1479">21</text><text x="841.25" y="1479">22</text><text x="862.75" y="1479">23</text>
<text x="561.75" y="1500">24</text><text x="583.25" y="1500">25</text><text x="626.25" y="1500">26</text><text x="647.75" y="1500">27</text><text x="669.25" y="1500">28</text><text x="690.75" y="1500">29</text><text x="733.75" y="1500">30</text><text x="755.25" y="1500">31</text><text x="776.75" y="1500">32</text><text x="798.25" y="1500">33</text><text x="841.25" y="1500">34</text><text x="862.75" y="1500">35</text>
<!-- D83 -->
<text x="994.5" y="1443">1</text><text x="1015.5" y="1443">2</text><text x="1078.5" y="1443">3</text><text x="1099.5" y="1443">4</text>
<text x="1004.5" y="1465">5</text><text x="1025.5" y="1465">6</text><text x="1046.5" y="1465">7</text><text x="1067.5" y="1465">8</text><text x="1088.5" y="1465">9</text>
<text x="994.5" y="1487">10</text><text x="1015.5" y="1487">11</text><text x="1036.5" y="1487">12</text><text x="1057.5" y="1487">13</text><text x="1078.5" y="1487">14</text><text x="1099.5" y="1487">15</text>
<text x="1004.5" y="1509">16</text><text x="1025.5" y="1509">17</text><text x="1067.5" y="1509">18</text><text x="1088.5" y="1509">19</text>
<text x="994.5" y="1530">20</text><text x="1015.5" y="1530">21</text><text x="1036.5" y="1530">22</text><text x="1057.5" y="1530">23</text><text x="1078.5" y="1530">24</text><text x="1099.5" y="1530">25</text>
</g>

<text x="1325" y="1537" font-size="17">WI-22132</text>
</svg>
</body></html>
